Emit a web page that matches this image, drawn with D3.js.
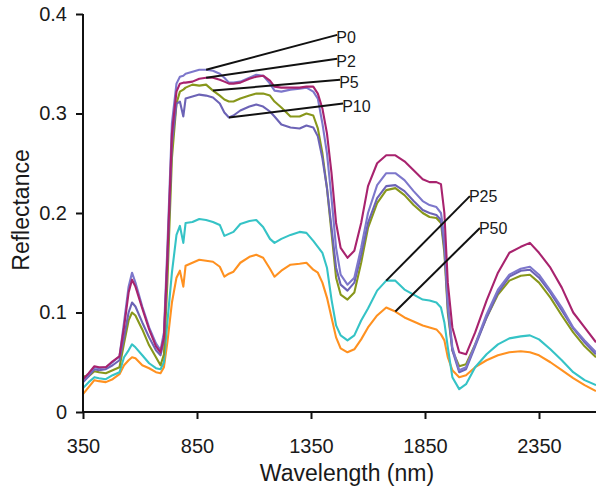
<!DOCTYPE html>
<html>
<head>
<meta charset="utf-8">
<script src="https://cdn.jsdelivr.net/npm/d3@7"></script>
<style>
  html, body { margin: 0; padding: 0; background: #fff; }
  svg { display: block; font-family: "Liberation Sans", Arial, Helvetica, sans-serif; }
</style>
</head>
<body>
<svg id="chart" width="596" height="489"></svg>
<script>
// Wavelength grid (nm) shared by all spectra
const wavelengths = [350, 375, 400, 420, 450, 480, 510, 530, 550, 565,
  580, 610, 640, 670, 690, 705, 720, 740, 760, 775,
  790, 800, 830, 860, 890, 920, 950, 970, 990, 1010,
  1040, 1080, 1110, 1140, 1170, 1190, 1220, 1260, 1300, 1330,
  1360, 1380, 1400, 1420, 1440, 1460, 1480, 1510, 1540, 1570,
  1600, 1640, 1680, 1720, 1760, 1800, 1840, 1870, 1900, 1920,
  1935, 1950, 1970, 2000, 2030, 2070, 2120, 2170, 2220, 2270,
  2310, 2350, 2400, 2450, 2500, 2550, 2600];

// Reflectance spectra
const p0 = [0.032, 0.038, 0.045, 0.044, 0.045, 0.050, 0.056, 0.090, 0.126, 0.140,
  0.130, 0.106, 0.085, 0.069, 0.062, 0.080, 0.165, 0.290, 0.330, 0.337,
  0.338, 0.340, 0.342, 0.344, 0.344, 0.343, 0.340, 0.336, 0.331, 0.331,
  0.332, 0.336, 0.339, 0.338, 0.330, 0.323, 0.322, 0.324, 0.325, 0.326,
  0.322, 0.315, 0.290, 0.260, 0.215, 0.165, 0.138, 0.128, 0.135, 0.165,
  0.200, 0.228, 0.240, 0.240, 0.233, 0.222, 0.212, 0.208, 0.206, 0.200,
  0.175, 0.110, 0.065, 0.042, 0.045, 0.068, 0.098, 0.123, 0.138, 0.144,
  0.146, 0.138, 0.122, 0.105, 0.085, 0.072, 0.060];

const p2 = [0.033, 0.039, 0.046, 0.045, 0.045, 0.051, 0.056, 0.085, 0.120, 0.133,
  0.126, 0.104, 0.083, 0.066, 0.060, 0.075, 0.155, 0.280, 0.322, 0.330,
  0.331, 0.331, 0.332, 0.335, 0.336, 0.336, 0.334, 0.332, 0.330, 0.330,
  0.331, 0.335, 0.337, 0.338, 0.333, 0.327, 0.326, 0.326, 0.326, 0.327,
  0.327, 0.320, 0.305, 0.280, 0.240, 0.190, 0.165, 0.155, 0.162, 0.190,
  0.227, 0.250, 0.258, 0.258, 0.252, 0.243, 0.234, 0.231, 0.231, 0.229,
  0.200, 0.130, 0.085, 0.060, 0.058, 0.080, 0.112, 0.140, 0.160, 0.166,
  0.170, 0.160, 0.145, 0.125, 0.100, 0.085, 0.070];

const p5 = [0.036, 0.036, 0.041, 0.040, 0.039, 0.042, 0.045, 0.069, 0.092, 0.100,
  0.097, 0.083, 0.067, 0.055, 0.047, 0.058, 0.130, 0.255, 0.310, 0.322,
  0.324, 0.326, 0.329, 0.328, 0.329, 0.323, 0.318, 0.314, 0.312, 0.312,
  0.315, 0.318, 0.320, 0.320, 0.318, 0.312, 0.306, 0.297, 0.297, 0.300,
  0.298, 0.285, 0.260, 0.225, 0.180, 0.135, 0.118, 0.113, 0.120, 0.150,
  0.185, 0.210, 0.223, 0.225, 0.218, 0.208, 0.200, 0.196, 0.195, 0.190,
  0.160, 0.100, 0.062, 0.046, 0.048, 0.068, 0.095, 0.118, 0.132, 0.137,
  0.138, 0.130, 0.115, 0.097, 0.080, 0.066, 0.055];

const p10 = [0.030, 0.036, 0.043, 0.042, 0.043, 0.047, 0.052, 0.075, 0.100, 0.110,
  0.106, 0.090, 0.075, 0.062, 0.057, 0.072, 0.150, 0.270, 0.310, 0.312,
  0.297, 0.315, 0.317, 0.319, 0.318, 0.316, 0.310, 0.301, 0.296, 0.298,
  0.303, 0.307, 0.309, 0.307, 0.302, 0.297, 0.289, 0.286, 0.285, 0.288,
  0.286, 0.277, 0.255, 0.225, 0.185, 0.145, 0.128, 0.122, 0.130, 0.158,
  0.190, 0.215, 0.227, 0.228, 0.222, 0.212, 0.203, 0.200, 0.198, 0.193,
  0.165, 0.105, 0.062, 0.040, 0.043, 0.066, 0.095, 0.120, 0.136, 0.142,
  0.143, 0.135, 0.120, 0.102, 0.084, 0.070, 0.058];

const p25 = [0.024, 0.030, 0.035, 0.034, 0.033, 0.037, 0.040, 0.055, 0.062, 0.068,
  0.065, 0.057, 0.049, 0.044, 0.043, 0.050, 0.090, 0.140, 0.178, 0.187,
  0.170, 0.190, 0.191, 0.194, 0.193, 0.191, 0.188, 0.177, 0.179, 0.181,
  0.189, 0.192, 0.193, 0.186, 0.174, 0.170, 0.174, 0.178, 0.181, 0.180,
  0.172, 0.166, 0.160, 0.145, 0.113, 0.087, 0.077, 0.072, 0.077, 0.092,
  0.104, 0.122, 0.132, 0.132, 0.123, 0.118, 0.113, 0.112, 0.110, 0.105,
  0.090, 0.065, 0.035, 0.023, 0.028, 0.045, 0.058, 0.068, 0.074, 0.076,
  0.077, 0.073, 0.063, 0.052, 0.040, 0.032, 0.027];

const p50 = [0.018, 0.025, 0.032, 0.031, 0.030, 0.033, 0.038, 0.047, 0.052, 0.055,
  0.054, 0.047, 0.044, 0.040, 0.039, 0.045, 0.070, 0.110, 0.135, 0.142,
  0.126, 0.147, 0.150, 0.153, 0.152, 0.151, 0.146, 0.136, 0.139, 0.141,
  0.150, 0.156, 0.158, 0.155, 0.144, 0.136, 0.142, 0.148, 0.149, 0.150,
  0.143, 0.140, 0.130, 0.115, 0.095, 0.075, 0.064, 0.060, 0.063, 0.073,
  0.085, 0.097, 0.105, 0.101, 0.095, 0.091, 0.087, 0.085, 0.083, 0.078,
  0.072, 0.055, 0.042, 0.035, 0.037, 0.045, 0.052, 0.057, 0.060, 0.061,
  0.060, 0.057, 0.050, 0.042, 0.034, 0.027, 0.021];

const seriesNames = ["P0", "P2", "P5", "P10", "P25", "P50"];
const seriesValues = [p0, p2, p5, p10, p25, p50];
const seriesColors = ["#7d77cb", "#a8236e", "#88971b", "#6c63b6", "#35c3c6", "#ff9120"];

// Label callouts: wavelength where the leader touches the curve,
// and the wavelength / reflectance where the label sits
const labelAnchorWl = [890, 890, 920, 990, 1680, 1720];
const labelTextWl = [1465, 1465, 1478, 1491, 2047, 2091];
const labelTextR = [0.379, 0.355, 0.334, 0.310, 0.217, 0.185];

const xTicks = [350, 850, 1350, 1850, 2350];
const yTicks = [0, 0.1, 0.2, 0.3, 0.4];

const svg = d3.select("#chart");
const margin = { left: 83, right: 0, top: 14, bottom: 77 };
const W = 596, H = 489;

const x = d3.scaleLinear().domain([350, 2600]).range([margin.left, W - margin.right]);
const y = d3.scaleLinear().domain([0, 0.4]).range([H - margin.bottom, margin.top]);

// Spectra
const line = d3.line()
  .x((d, i) => x(wavelengths[i]))
  .y(d => y(d));

const drawOrder = [5, 4, 2, 3, 0, 1];
svg.append("g").selectAll("path")
  .data(drawOrder)
  .join("path")
  .attr("d", k => line(seriesValues[k]))
  .attr("fill", "none")
  .attr("stroke", k => seriesColors[k])
  .attr("stroke-width", 2.1)
  .attr("stroke-linejoin", "round");

// Axes
const xAxis = d3.axisBottom(x).tickValues(xTicks).tickSize(7).tickSizeOuter(0).tickPadding(20)
  .tickFormat(d3.format("d"));
const yAxis = d3.axisLeft(y).tickValues(yTicks).tickSize(7).tickSizeOuter(0).tickPadding(9)
  .tickFormat(d => d === 0 ? "0" : d.toFixed(1));

const gx = svg.append("g").attr("transform", `translate(0,${y(0)})`).call(xAxis);
const gy = svg.append("g").attr("transform", `translate(${x(350)},0)`).call(yAxis);

[gx, gy].forEach(g => {
  g.select(".domain").attr("stroke", "#111").attr("stroke-width", 2);
  g.selectAll(".tick line").attr("stroke", "#111").attr("stroke-width", 2);
  g.selectAll(".tick text").attr("fill", "#1a1a1a").attr("font-size", 20)
    .attr("font-family", "'Liberation Sans', Arial, sans-serif");
});
gx.select(".domain").attr("d", `M${x(350)},0H${W}`);
gy.select(".domain").attr("d", `M0,${y(0.4)}V${y(0)}`);

// Axis titles
svg.append("text")
  .attr("x", 347).attr("y", 481)
  .attr("text-anchor", "middle")
  .attr("font-size", 23).attr("fill", "#1a1a1a")
  .text("Wavelength (nm)");

svg.append("text")
  .attr("transform", "translate(29,210) rotate(-90)")
  .attr("text-anchor", "middle")
  .attr("font-size", 23).attr("fill", "#1a1a1a")
  .text("Reflectance");

// Callout labels
const callouts = svg.append("g");
seriesNames.forEach((name, k) => {
  const i = wavelengths.indexOf(labelAnchorWl[k]);
  const ax = x(labelAnchorWl[k]), ay = y(seriesValues[k][i]);
  const tx = x(labelTextWl[k]), ty = y(labelTextR[k]);
  callouts.append("line")
    .attr("x1", ax).attr("y1", ay).attr("x2", tx).attr("y2", ty)
    .attr("stroke", "#111").attr("stroke-width", 2);
  callouts.append("text")
    .attr("x", tx - 1).attr("y", ty + (k < 4 ? 3 : 0))
    .attr("dy", "0.35em")
    .attr("font-size", 16).attr("fill", "#1a1a1a")
    .text(name);
});
</script>
</body>
</html>
